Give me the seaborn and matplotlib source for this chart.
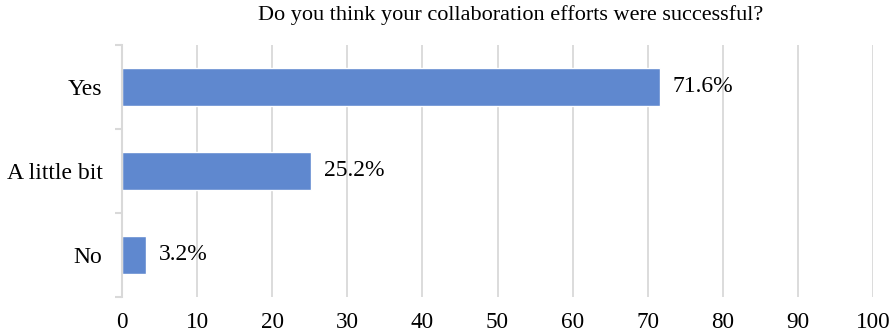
import matplotlib
matplotlib.use("Agg")
import matplotlib.pyplot as plt
import seaborn as sns
import pandas as pd
from matplotlib.ticker import FixedLocator

categories = ["Yes", "A little bit", "No"]
values = [71.6, 25.2, 3.2]
labels = ["71.6%", "25.2%", "3.2%"]
xticks = [0, 10, 20, 30, 40, 50, 60, 70, 80, 90, 100]
title = "Do you think your collaboration efforts were successful?"

sns.set_theme(style="white")
plt.rcParams['font.family'] = ['Liberation Serif', 'DejaVu Serif']

df = pd.DataFrame({"cat": categories, "val": values})

fig = plt.figure(figsize=(8.96, 3.36), dpi=100)
ax = fig.add_axes([122/896, 1 - 297/336, (873 - 122)/896, (297 - 45)/336])

sns.barplot(data=df, x="val", y="cat", orient="h", color="#5F88CF",
            saturation=1, width=0.46, ax=ax, zorder=2)

ax.set_xlim(0, 100)
ax.set_ylim(2.5, -0.5)
ax.set_xticks(xticks)
ax.set_xticklabels([str(t) for t in xticks], fontsize=16.7, color="#000000")
ax.tick_params(axis="x", length=0, pad=10.5)
ax.tick_params(axis="y", which="major", length=0, pad=14, labelsize=17, labelcolor="#000000")
ax.yaxis.set_minor_locator(FixedLocator([-0.5, 0.5, 1.5, 2.5]))
ax.tick_params(axis="y", which="minor", length=5, width=1.5, color="#D9D9D9", left=True)
ax.set_xlabel("")
ax.set_ylabel("")

for t in xticks[1:]:
    ax.axvline(t, color="#D9D9D9", lw=1.3, zorder=1)

for s in ["top", "right", "bottom"]:
    ax.spines[s].set_visible(False)
ax.spines["left"].set_color("#D9D9D9")
ax.spines["left"].set_linewidth(1.5)

for cont in ax.containers:
    ax.bar_label(cont, labels=labels, padding=9, fontsize=17, color="#000000")

fig.text(511/896, 1 - 15/336, title, ha="center", va="center", fontsize=16, color="#000000")

fig.savefig("out.png", dpi=100)
